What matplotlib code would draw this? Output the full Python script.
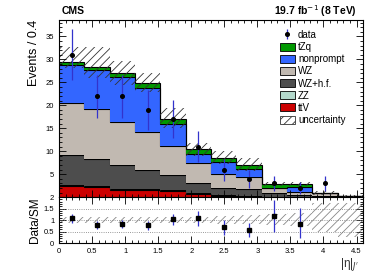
import matplotlib
matplotlib.use("Agg")
import matplotlib.pyplot as plt
import numpy as np
from matplotlib.patches import Patch
from matplotlib.ticker import MultipleLocator

plt.rcParams['font.family'] = ['Liberation Sans', 'DejaVu Sans']
plt.rcParams['hatch.linewidth'] = 0.6

# --- binning (12 bins up to 4.6) ---
edges = np.linspace(0, 4.6, 13)

# --- stacked backgrounds, bottom -> top ---
ttV = [2.4, 2.1, 1.5, 1.5, 1.3, 0.7, 0.3, 0.15, 0.05, 0.05, 0.0, 0.0]
ZZ = [0.3, 0.3, 0.2, 0.2, 0.2, 0.1, 0.1, 0.1, 0.05, 0.05, 0.05, 0.02]
WZhf = [6.5, 5.9, 5.3, 4.2, 3.3, 2.2, 1.6, 1.45, 0.7, 0.4, 0.25, 0.18]
WZ = [11.3, 11.0, 9.4, 8.2, 6.3, 4.4, 3.0, 2.6, 1.1, 0.6, 0.5, 0.1]
nonprompt = [8.2, 8.4, 9.8, 9.7, 4.8, 2.0, 2.7, 1.8, 0.1, 1.1, 0.0, 0.0]
tZq = [0.8, 0.7, 0.9, 1.1, 1.1, 1.0, 0.9, 0.9, 0.8, 0.6, 0.05, 0.0]

# --- uncertainty band on total ---
unc_lo = [28.1, 25.9, 24.4, 23.0, 15.0, 9.0, 7.2, 5.6, 2.5, 2.4, 0.4, 0.1]
unc_hi = [32.7, 32.7, 29.7, 27.1, 19.4, 11.8, 10.0, 8.5, 3.2, 3.2, 1.3, 0.5]

# --- data ---
data = [31, 22, 22, 19, 17, 11, 6, 4, 3, 2, 3]
data_err = [5.6, 4.7, 4.7, 4.4, 4.1, 3.3, 2.4, 2.0, 1.7, 1.4, 1.7]

# --- ratio panel ---
ratio = [1.07, 0.79, 0.83, 0.78, 1.03, 1.07, 0.69, 0.55, 1.16, 0.84]
ratio_err_lo = [0.2, 0.17, 0.18, 0.2, 0.24, 0.32, 0.32, 0.28, 0.70, 0.64]
ratio_err_hi = [0.2, 0.17, 0.18, 0.2, 0.24, 0.32, 0.31, 0.33, 0.70, 0.68]
rband_lo = [0.87, 0.87, 0.87, 0.87, 0.87, 0.86, 0.84, 0.82, 0.78, 0.75, 0.48, 0.27]
rband_hi = [1.13, 1.13, 1.13, 1.13, 1.14, 1.15, 1.18, 1.2, 1.25, 1.3, 1.76, 1.76]

components = [
    ('ttV', ttV, '#cc0000'),
    ('ZZ', ZZ, '#b3d9cc'),
    ('WZ+h.f.', WZhf, '#4d4d4d'),
    ('WZ', WZ, '#c1b9b1'),
    ('nonprompt', nonprompt, '#3366ff'),
    ('tZq', tZq, '#009900'),
]

fig = plt.figure(figsize=(3.74, 2.8), dpi=100)
ax = fig.add_axes([0.158, 0.296, 0.813, 0.633])
rax = fig.add_axes([0.158, 0.132, 0.813, 0.164], sharex=ax)

width = np.diff(edges)
base = np.zeros(len(edges) - 1)
for name, vals, col in components:
    top = base + np.array(vals)
    ax.stairs(top, edges, baseline=base, fill=True, color=col, lw=0)
    ax.stairs(top, edges, baseline=None, color='black', lw=0.8)
    base = top

lo = np.array(unc_lo)
hi = np.array(unc_hi)
ax.bar(edges[:-1], hi - lo, width=width, bottom=lo, align='edge',
       fill=False, hatch='////', edgecolor='#333333', lw=0)

centers = 0.5 * (edges[:-1] + edges[1:])
nd = len(data)
dat = ax.errorbar(centers[:nd], data, yerr=data_err, fmt='o', color='black',
                  ms=2.6, ecolor='#3333cc', elinewidth=0.9, capsize=0)

ax.set_xlim(0, 4.6)
ax.set_ylim(0, 38.6)
ax.set_ylabel('Events / 0.4', fontsize=9, loc='top')
ax.yaxis.set_major_locator(MultipleLocator(5))
ax.yaxis.set_minor_locator(MultipleLocator(1))
ax.set_yticks([5, 10, 15, 20, 25, 30, 35])
ax.xaxis.set_major_locator(MultipleLocator(0.5))
ax.xaxis.set_minor_locator(MultipleLocator(0.1))
ax.tick_params(axis='x', labelbottom=False)

for a in (ax, rax):
    a.tick_params(which='both', direction='in', top=True, right=True,
                  labelsize=5.5, width=0.6)
    a.tick_params(which='major', length=5)
    a.tick_params(which='minor', length=2.5)
    for s in a.spines.values():
        s.set_linewidth(0.8)

handles = [dat]
labels = ['data']
for name, vals, col in components[::-1]:
    handles.append(Patch(facecolor=col, edgecolor='black', lw=0.6))
    labels.append(name)
handles.append(Patch(facecolor='white', edgecolor='#333333', hatch='////', lw=0.6))
labels.append('uncertainty')
ax.legend(handles, labels, loc='upper right', bbox_to_anchor=(0.955, 0.965),
          frameon=False, fontsize=7, handlelength=1.6, handleheight=0.9,
          labelspacing=0.22, handletextpad=0.3, borderaxespad=0)

fig.text(0.166, 0.962, 'CMS', fontsize=7.5, fontweight='bold', va='center')
fig.text(0.955, 0.962, '19.7 fb$^{-1}$ (8 TeV)', fontsize=7.5,
         fontweight='bold', ha='right', va='center')

# ratio panel
rlo = np.array(rband_lo)
rhi = np.array(rband_hi)
rax.bar(edges[:-1], rhi - rlo, width=width, bottom=rlo, align='edge',
        fill=False, hatch='////', edgecolor='#888888', lw=0)
for yv in (0.5, 1.0, 1.5):
    rax.axhline(yv, color='#777777', lw=0.6, ls=':')
nr = len(ratio)
rax.errorbar(centers[:nr], ratio, yerr=[ratio_err_lo, ratio_err_hi], fmt='s',
             color='black', ms=2.6, ecolor='#3333cc', elinewidth=0.9, capsize=0)
rax.set_ylim(0, 2)
rax.set_yticks([0, 0.5, 1, 1.5, 2])
rax.set_yticklabels(['0', '0.5', '1', '1.5', '2'])
rax.yaxis.set_minor_locator(MultipleLocator(0.1))
rax.set_ylabel('Data/SM', fontsize=8.5, labelpad=2)
rax.set_xticks([0, 0.5, 1, 1.5, 2, 2.5, 3, 3.5, 4, 4.5])
rax.set_xticklabels(['0', '0.5', '1', '1.5', '2', '2.5', '3', '3.5', '4', '4.5'])
rax.set_xlim(0, 4.6)
fig.text(0.96, 0.055, "|η|$_{J'}$", fontsize=8.5, ha='right', va='center',
         color='#333333')

fig.savefig('out.png', dpi=100)
